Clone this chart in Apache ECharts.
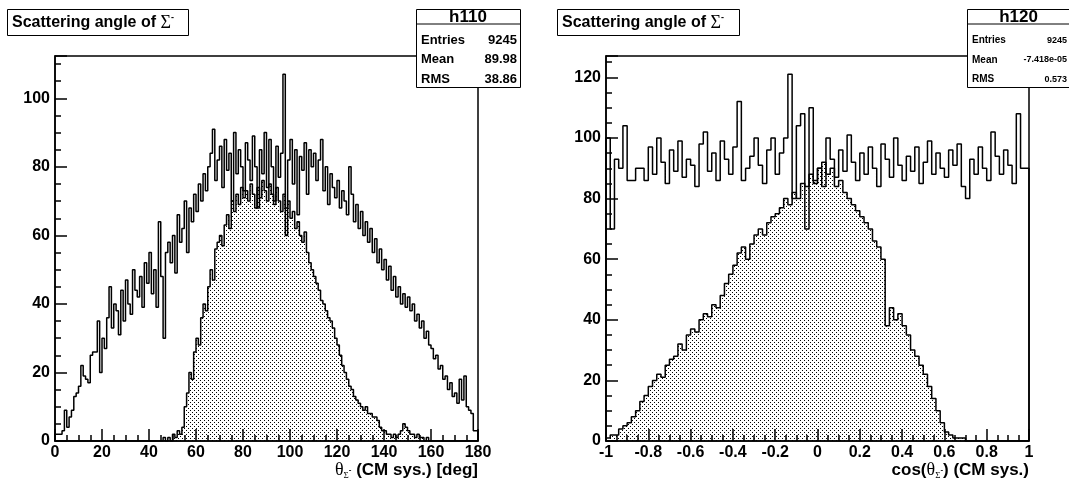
<!DOCTYPE html>
<html>
<head>
<meta charset="utf-8">
<script src="https://cdn.jsdelivr.net/npm/echarts@6/dist/echarts.min.js"></script>
<style>
html,body{margin:0;padding:0;background:#fff}
#main{width:1069px;height:480px}
</style>
</head>
<body>
<div id="main"></div>
<script>
// h110 : theta, 180 bins 0..180 deg
const thetaMin = 0, thetaMax = 180, thetaBins = 180
const thetaAll = [
  2, 2, 2, 3, 9, 4, 7, 9, 13, 14,
  16, 22, 19, 18, 17, 25, 26, 26, 35, 20,
  30, 27, 36, 45, 33, 40, 38, 31, 44, 35,
  47, 40, 37, 50, 44, 42, 48, 39, 52, 46,
  55, 43, 50, 39, 64, 48, 30, 55, 58, 52,
  60, 49, 66, 58, 62, 70, 55, 68, 64, 72,
  67, 75, 70, 78, 73, 80, 84, 91, 76, 82,
  86, 74, 88, 79, 84, 70, 90, 78, 85, 80,
  73, 87, 82, 76, 89, 80, 68, 85, 78, 90,
  74, 88, 80, 70, 86, 77, 84, 107, 60, 82,
  88, 75, 85, 66, 83, 79, 87, 72, 85, 80,
  84, 76, 82, 88, 73, 80, 69, 78, 74, 71,
  76, 68, 73, 70, 66, 80, 72, 64, 69, 62,
  67, 60, 64, 58, 62, 55, 59, 52, 56, 50,
  53, 47, 51, 44, 48, 42, 45, 40, 43, 39,
  42, 38, 40, 35, 37, 33, 35, 30, 32, 28,
  27, 24, 25, 21, 22, 18, 19, 15, 17, 13,
  14, 11, 18, 12, 19, 10, 9, 8, 3, 3
]
const thetaSel = [
  0, 0, 0, 0, 0, 0, 0, 0, 0, 0,
  0, 0, 0, 0, 0, 0, 0, 0, 0, 0,
  0, 0, 0, 0, 0, 0, 0, 0, 0, 0,
  0, 0, 0, 0, 0, 0, 0, 0, 0, 0,
  0, 0, 0, 0, 0, 0, 1, 0, 1, 0,
  2, 1, 3, 2, 4, 10, 14, 20, 18, 26,
  30, 28, 36, 40, 38, 45, 50, 47, 56, 58,
  60, 57, 63, 66, 62, 70, 67, 72, 69, 74,
  71, 73, 70, 75, 72, 68, 74, 71, 76, 73,
  70, 75, 72, 69, 74, 70, 67, 72, 68, 70,
  65, 67, 62, 64, 60, 58, 61, 55, 52, 50,
  48, 46, 44, 41, 40, 38, 36, 35, 33, 30,
  28, 25, 22, 20, 18, 16, 15, 13, 12, 11,
  10, 9, 10, 8, 8, 7, 7, 6, 4, 3,
  3, 2, 2, 1, 2, 1, 2, 3, 5, 4,
  3, 2, 2, 1, 2, 1, 1, 0, 1, 0,
  0, 0, 0, 0, 0, 0, 0, 0, 0, 0,
  0, 0, 0, 0, 0, 0, 0, 0, 0, 0
]
// h120 : cos(theta), 100 bins -1..1
const cosMin = -1, cosMax = 1, cosBins = 100
const cosAll = [
  100, 70, 93, 90, 104, 86, 86, 90, 90, 86,
  97, 88, 100, 92, 85, 96, 89, 99, 87, 93,
  91, 84, 98, 102, 89, 95, 86, 99, 93, 88,
  97, 112, 86, 90, 94, 100, 91, 85, 96, 100,
  88, 95, 100, 121, 80, 104, 108, 70, 110, 85,
  90, 84, 100, 93, 87, 96, 89, 101, 92, 86,
  95, 88, 97, 90, 84, 98, 93, 87, 100, 91,
  86, 94, 89, 97, 85, 92, 99, 88, 95, 90,
  87, 96, 91, 98, 84, 80, 93, 88, 97, 90,
  86, 102, 94, 88, 96, 91, 85, 108, 90, 90
]
const cosSel = [
  1, 2, 2, 4, 5, 6, 8, 10, 13, 15,
  18, 20, 22, 21, 25, 27, 28, 32, 30, 35,
  37, 36, 40, 42, 41, 45, 44, 48, 52, 55,
  58, 62, 64, 60, 65, 68, 70, 68, 72, 74,
  75, 77, 80, 78, 82, 80, 85, 84, 88, 86,
  90, 92, 88, 90, 84, 86, 82, 80, 78, 76,
  74, 72, 70, 66, 64, 60, 38, 44, 40, 42,
  38, 35, 30, 28, 25, 22, 18, 14, 10, 6,
  3, 2, 1, 1, 1, 0, 0, 0, 0, 0,
  0, 0, 0, 0, 0, 0, 0, 0, 0, 0
]
const statsTheta = [['Entries', '9245'], ['Mean', '89.98'], ['RMS', '38.86']]
const statsCos = [['Entries', '9245'], ['Mean', '-7.418e-05'], ['RMS', '0.573']]

const FONT = 'Liberation Sans, Arial, Helvetica, sans-serif'
const SYM = 'Liberation Serif, DejaVu Serif, serif'

// 点状填充
function dotPattern() {
  const c = document.createElement('canvas')
  c.width = 4
  c.height = 4
  const ctx = c.getContext('2d')
  ctx.fillStyle = '#000'
  ctx.fillRect(0, 0, 1, 1)
  ctx.fillRect(2, 2, 1, 1)
  return c
}

// histogram -> step points (bin low edges + closing edge)
function histPoints(vals, lo, hi, n) {
  const w = (hi - lo) / n
  const pts = [[lo, 0]]
  vals.forEach((v, i) => pts.push([+(lo + i * w).toFixed(6), v]))
  pts.push([hi, vals[n - 1]])
  pts.push([hi, 0])
  return pts
}

function yAxes(gridIndex, ymax) {
  return [{
    gridIndex, type: 'value', min: 0, max: ymax, interval: 20,
    axisLine: { show: true, onZero: false, lineStyle: { color: '#000', width: 1.5 } },
    axisTick: { show: true, inside: true, length: 12, lineStyle: { color: '#000', width: 1.5 } },
    axisLabel: {
      color: '#000', fontFamily: FONT, fontWeight: 'bold', fontSize: 16, margin: 5,
      formatter: v => (Math.abs(v % 20) < 1e-6 ? String(v) : '')
    },
    splitLine: { show: false }
  }, {
    gridIndex, type: 'value', min: 0, max: ymax, interval: 5, position: 'left',
    axisLine: { show: false, onZero: false },
    axisTick: { show: true, inside: true, length: 6, lineStyle: { color: '#000', width: 1.5 } },
    axisLabel: { show: false },
    splitLine: { show: false }
  }]
}

function xAxis(gridIndex, lo, hi, step) {
  return {
    gridIndex, type: 'value', min: lo, max: hi, interval: step,
    axisLine: { show: true, onZero: false, lineStyle: { color: '#000', width: 1.5 } },
    axisTick: { show: true, inside: true, length: 12, lineStyle: { color: '#000', width: 1.5 } },
    minorTick: { show: true, splitNumber: 4, length: 6, lineStyle: { color: '#000', width: 1.5 } },
    axisLabel: {
      color: '#000', fontFamily: FONT, fontWeight: 'bold', fontSize: 16, margin: 4,
      formatter: v => String(+v.toFixed(2))
    },
    splitLine: { show: false }
  }
}

function lineSeries(data, xi, yi, filled) {
  const s = {
    type: 'line', data, xAxisIndex: xi, yAxisIndex: yi, step: 'end',
    symbol: 'none', silent: true, animation: false,
    lineStyle: { color: '#000', width: 1.5 }
  }
  if (filled) s.areaStyle = { color: { image: dotPattern(), repeat: 'repeat' }, opacity: 1 }
  return s
}

function titleBox(x, w) {
  return {
    type: 'group', left: x, top: 9,
    children: [
      { type: 'rect', shape: { x: 0.5, y: 0.5, width: w, height: 26 }, style: { fill: '#fff', stroke: '#000', lineWidth: 1 } },
      {
        type: 'text', x: 5, y: 14,
        style: {
          text: '{a|Scattering angle of }{s|Σ}{p|-}',
          verticalAlign: 'middle',
          rich: {
            a: { fontFamily: FONT, fontWeight: 'bold', fontSize: 16, fill: '#000', lineHeight: 20 },
            s: { fontFamily: SYM, fontSize: 18, fill: '#000', lineHeight: 20 },
            p: { fontFamily: FONT, fontWeight: 'bold', fontSize: 9, fill: '#000', lineHeight: 8, verticalAlign: 'top' }
          }
        }
      }
    ]
  }
}

function statBox(x, w, name, rows, fs, fv) {
  const children = [
    { type: 'rect', shape: { x: 0.5, y: 0.5, width: w, height: 78 }, style: { fill: '#fff', stroke: '#000', lineWidth: 1 } },
    { type: 'line', shape: { x1: 0.5, y1: 15, x2: w + 0.5, y2: 15 }, style: { stroke: '#000', lineWidth: 1 } },
    { type: 'text', x: w / 2, y: 8.5, style: { text: name, fontFamily: FONT, fontWeight: 'bold', fontSize: 17, fill: '#000', align: 'center', verticalAlign: 'middle' } }
  ]
  rows.forEach((r, i) => {
    const y = 31.5 + i * 19.3
    children.push({ type: 'text', x: 5, y, style: { text: r[0], fontFamily: FONT, fontWeight: 'bold', fontSize: fs, fill: '#000', verticalAlign: 'middle' } })
    children.push({ type: 'text', x: w - 3, y, style: { text: r[1], fontFamily: FONT, fontWeight: 'bold', fontSize: fv, fill: '#000', align: 'right', verticalAlign: 'middle' } })
  })
  return { type: 'group', left: x, top: 9, children }
}

function axisTitle(right, pre, post) {
  return {
    type: 'text', right, top: 461,
    style: {
      text: `{a|${pre}}{t|θ}{s|Σ}{p|-}{a|${post}}`,
      rich: {
        a: { fontFamily: FONT, fontWeight: 'bold', fontSize: 17, fill: '#000', lineHeight: 20 },
        t: { fontFamily: SYM, fontSize: 18, fill: '#000', lineHeight: 20 },
        s: { fontFamily: SYM, fontSize: 9, fill: '#000', lineHeight: 8, verticalAlign: 'bottom' },
        p: { fontFamily: FONT, fontWeight: 'bold', fontSize: 8, fill: '#000', lineHeight: 8, verticalAlign: 'middle' }
      }
    }
  }
}

const chart = echarts.init(document.getElementById('main'), null, { renderer: 'canvas' })
const option = {
  animation: false,
  backgroundColor: '#fff',
  grid: [
    { left: 55, right: 591, top: 56, bottom: 39, show: true, borderColor: '#000', borderWidth: 1.5, backgroundColor: 'transparent', outerBoundsMode: 'none' },
    { left: 606, right: 40, top: 56, bottom: 39, show: true, borderColor: '#000', borderWidth: 1.5, backgroundColor: 'transparent', outerBoundsMode: 'none' }
  ],
  xAxis: [xAxis(0, thetaMin, thetaMax, 20), xAxis(1, cosMin, cosMax, 0.2)],
  yAxis: [...yAxes(0, 112.35), ...yAxes(1, 127.05)],
  series: [
    lineSeries(histPoints(thetaSel, thetaMin, thetaMax, thetaBins), 0, 0, true),
    lineSeries(histPoints(thetaAll, thetaMin, thetaMax, thetaBins), 0, 0, false),
    lineSeries(histPoints(cosSel, cosMin, cosMax, cosBins), 1, 2, true),
    lineSeries(histPoints(cosAll, cosMin, cosMax, cosBins), 1, 2, false)
  ],
  graphic: [
    titleBox(7, 181),
    titleBox(557, 182),
    statBox(414, 104, 'h110', statsTheta, 13, 13),
    statBox(965, 103, 'h120', statsCos, 10, 9),
    axisTitle(1069 - 478, '', ' (CM sys.) [deg]'),
    axisTitle(1069 - 1029, 'cos(', ') (CM sys.)')
  ]
}
chart.setOption(option)
</script>
</body>
</html>
